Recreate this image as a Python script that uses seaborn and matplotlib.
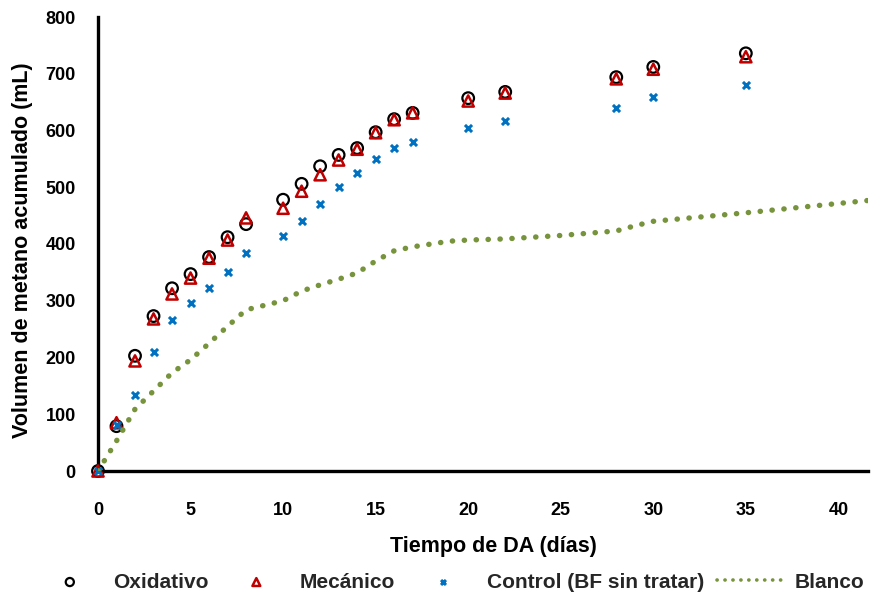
import matplotlib
matplotlib.use("Agg")
import matplotlib.pyplot as plt
import seaborn as sns
import pandas as pd

# ---- data ----
dias = [0, 1, 2, 3, 4, 5, 6, 7, 8, 10, 11, 12, 13, 14, 15, 16, 17, 20, 22, 28, 30, 35]
oxidativo = [0, 79, 203, 273, 322, 347, 377, 412, 435, 478, 506, 537, 557, 569, 597, 620, 631, 657, 668, 694, 712, 736]
mecanico = [0, 85, 194, 268, 312, 340, 375, 407, 446, 463, 493, 522, 548, 567, 596, 619, 631, 652, 666, 691, 708, 730]
control = [0, 81, 134, 210, 266, 296, 322, 351, 384, 414, 441, 470, 500, 525, 550, 569, 580, 604, 617, 640, 659, 680]

dias_blanco = [0, 1, 2, 3, 4, 5, 6, 7, 8, 9, 10, 11, 12, 13, 14, 15, 16, 17, 18, 19, 20, 22, 25, 28, 29, 30, 35, 42]
blanco = [0, 53, 109, 141, 173, 196, 225, 255, 284, 292, 300, 317, 328, 338, 349, 370, 388, 395, 400, 405, 407, 409, 415, 423, 432, 440, 455, 478]

series_labels = ["Oxidativo", "Mecánico", "Control (BF sin tratar)", "Blanco"]
xlabel = "Tiempo de DA (días)"
ylabel = "Volumen de metano acumulado (mL)"
xticks = [0, 5, 10, 15, 20, 25, 30, 35, 40]
yticks = [0, 100, 200, 300, 400, 500, 600, 700, 800]

sns.set_theme(style="white")
plt.rcParams["font.family"] = ["Liberation Sans", "DejaVu Sans"]
plt.rcParams["font.weight"] = "bold"

W, H = 872, 596
fig = plt.figure(figsize=(W / 100, H / 100), dpi=100)
ax = fig.add_subplot(111)
fig.subplots_adjust(left=98 / W, right=868 / W, bottom=(H - 471) / H, top=(H - 17) / H)

df_pts = pd.DataFrame({"dias": dias, "ox": oxidativo, "mec": mecanico, "ctl": control})
df_bl = pd.DataFrame({"dias": dias_blanco, "bl": blanco})

sns.scatterplot(data=df_pts, x="dias", y="ox", ax=ax, marker="o", s=70,
                color="black", facecolor="none", edgecolor="black", linewidth=1.6,
                label=series_labels[0], clip_on=False, zorder=3)
sns.scatterplot(data=df_pts, x="dias", y="mec", ax=ax, marker="^", s=65,
                color="#C00000", facecolor="none", edgecolor="#C00000", linewidth=1.8,
                label=series_labels[1], clip_on=False, zorder=4)
sns.scatterplot(data=df_pts, x="dias", y="ctl", ax=ax, marker="x", s=26,
                color="#0070C0", linewidth=2.2,
                label=series_labels[2], clip_on=False, zorder=5)
sns.lineplot(data=df_bl, x="dias", y="bl", ax=ax, color="#77933C", linewidth=3.9,
             linestyle=(0, (0.05, 2.15)), dash_capstyle="round",
             label=series_labels[3], zorder=6)

ax.set_xlim(0, 41.6)
ax.set_ylim(0, 800)
ax.set_xticks(xticks)
ax.set_yticks(yticks)
ax.tick_params(axis="both", length=0, labelsize=13)
ax.tick_params(axis="x", pad=22)
ax.tick_params(axis="y", pad=16)
for lab in ax.get_xticklabels() + ax.get_yticklabels():
    lab.set_fontweight("bold")
    lab.set_color("black")

sns.despine(ax=ax)
for side in ["left", "bottom"]:
    ax.spines[side].set_linewidth(2.4)
    ax.spines[side].set_color("black")
ax.grid(False)

ax.set_xlabel(xlabel, fontsize=15.5, fontweight="bold", color="black")
ax.set_ylabel(ylabel, fontsize=15.5, fontweight="bold", color="black")
ax.xaxis.set_label_coords(0.513, -0.143)
ax.yaxis.set_label_coords(-0.085, 0.487)

handles, labels = ax.get_legend_handles_labels()
if ax.legend_:
    ax.legend_.remove()
leg = fig.legend(handles, labels, loc="center", bbox_to_anchor=(450 / W, (H - 582) / H),
                 ncol=4, frameon=False, prop={"size": 15, "weight": "bold"},
                 handlelength=3.3, handletextpad=0.45, columnspacing=0.62,
                 markerscale=0.7, scatterpoints=1, borderpad=0, borderaxespad=0)
for ln in leg.get_lines():
    ln.set_linewidth(2.6)

fig.savefig("out.png", dpi=100)
